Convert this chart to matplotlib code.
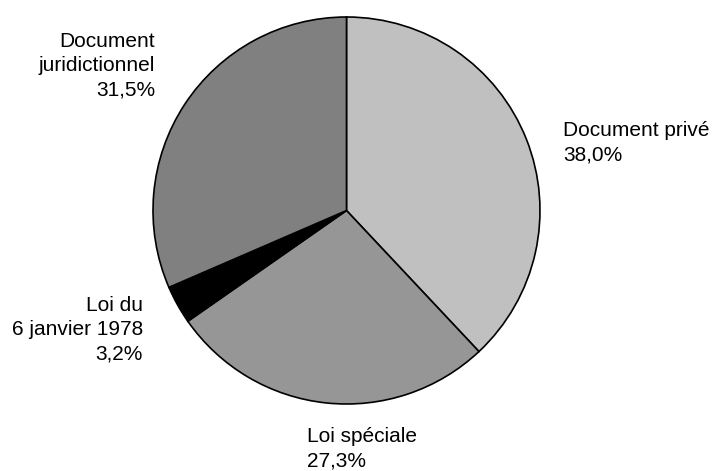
import matplotlib
matplotlib.use('Agg')
import matplotlib.pyplot as plt

plt.rcParams['font.family'] = ['Liberation Sans', 'DejaVu Sans']

labels = ['Document privé', 'Loi spéciale', 'Loi du\n6 janvier 1978', 'Document\njuridictionnel']
shares = [38.0, 27.3, 3.2, 31.5]
colors = ['#c0c0c0', '#969696', '#000000', '#808080']

W, H = 712, 471
fig = plt.figure(figsize=(W / 100, H / 100), dpi=100)
ax = fig.add_axes([0, 0, 1, 1])

cx, cy, r = 346.5, H - 210.5, 193.5
ax.pie(shares, colors=colors, startangle=90, counterclock=False,
       center=(cx, cy), radius=r, frame=True,
       wedgeprops=dict(edgecolor='black', linewidth=1.2))
ax.set_xlim(0, W)
ax.set_ylim(0, H)
ax.set_aspect('equal')
ax.axis('off')

def pct(v):
    return f'{v:.1f}%'.replace('.', ',')

# label anchors: x, top of text box (pixels from top), alignment
spots = [
    (563, 121, 'left'),
    (307, 427, 'left'),
    (143, 296, 'right'),
    (155, 32, 'right'),
]
for (x, ytop, ha), name, v in zip(spots, labels, shares):
    ax.text(x, H - ytop, f'{name}\n{pct(v)}', ha=ha, va='top',
            multialignment=ha, fontsize=15, linespacing=1.36)

fig.savefig('out.png', dpi=100)
